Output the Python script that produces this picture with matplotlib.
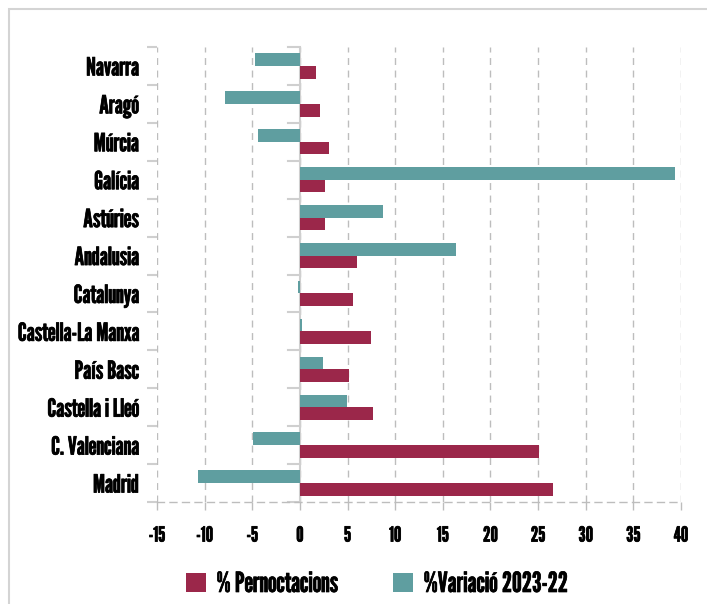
import matplotlib
matplotlib.use("Agg")
import matplotlib.pyplot as plt
from matplotlib.patches import Rectangle, Patch
import matplotlib.patheffects as pe
import numpy as np

plt.rcParams['font.family'] = ['League Gothic', 'DejaVu Sans']

categories = ["Navarra", "Aragó", "Múrcia", "Galícia", "Astúries", "Andalusia",
              "Catalunya", "Castella-La Manxa", "País Basc", "Castella i Lleó",
              "C. Valenciana", "Madrid"]
pernoctacions = [1.65, 2.1, 3.05, 2.6, 2.6, 6.0, 5.6, 7.5, 5.15, 7.7, 25.1, 26.6]
variacio = [-4.7, -7.9, -4.4, 39.4, 8.75, 16.4, -0.2, 0.2, 2.4, 4.95, -4.95, -10.7]
xticks = [-15, -10, -5, 0, 5, 10, 15, 20, 25, 30, 35, 40]
series_names = ["% Pernoctacions", "%Variació 2023-22"]

c_maroon = "#9b274a"
c_teal = "#5f9ea0"
grid_c = "#bdbdbd"
bold = [pe.withStroke(linewidth=0.5, foreground="black")]

W, H = 707, 604
fig = plt.figure(figsize=(W/100, H/100), dpi=100)
ax = fig.add_axes([157/W, 1-502/H, (681-157)/W, (502-47)/H])

n = len(categories)
y = np.arange(n)
h = 0.335
ax.barh(y - h/2, variacio, height=h, color=c_teal, zorder=3)
ax.barh(y + h/2, pernoctacions, height=h, color=c_maroon, zorder=3)

ax.set_ylim(n - 0.5, -0.5)
ax.set_xlim(-15, 40)
ax.set_xticks(xticks)
ax.set_xticklabels([str(t) for t in xticks], fontsize=15)
ax.set_yticks(y)
ax.set_yticklabels(categories, fontsize=18)
ax.set_yticks(np.arange(n + 1) - 0.5, minor=True)
ax.tick_params(axis='y', which='major', length=0, pad=13)
ax.tick_params(axis='y', which='minor', length=7, color="#cfcfcf", width=1.5, direction='out')
ax.tick_params(axis='x', which='major', length=6, color=grid_c, width=1, pad=11)
for lab in ax.get_xticklabels() + ax.get_yticklabels():
    lab.set_path_effects(bold)

for t in xticks:
    ax.axvline(t, color=grid_c, linestyle=(0, (5, 4)), linewidth=1, zorder=1)

for s in ['top', 'right', 'left']:
    ax.spines[s].set_visible(False)
ax.spines['bottom'].set_color(grid_c)
ax.spines['bottom'].set_linestyle((0, (5, 4)))
ax.spines['bottom'].set_linewidth(1)

# zero line with boundary ticks
ax.axvline(0, color="#cfcfcf", linewidth=1.5, zorder=2)
for b in np.arange(n + 1) - 0.5:
    ax.plot([-1.3, 0], [b, b], color="#cfcfcf", linewidth=1.5, zorder=2, clip_on=False)

handles = [Patch(facecolor=c_maroon, edgecolor='none'), Patch(facecolor=c_teal, edgecolor='none')]
leg = fig.legend(handles, series_names, loc='center', bbox_to_anchor=(377/W, 1-584/H),
                 ncol=2, frameon=False, fontsize=20, handlelength=0.7, handleheight=0.7,
                 handletextpad=0.4, columnspacing=2.0)
for t in leg.get_texts():
    t.set_path_effects(bold)

fig.patches.append(Rectangle((8.5/W, -0.1), 1.2, 1.1 - 8.5/H, transform=fig.transFigure,
                             fill=False, edgecolor="#d4d4d4", linewidth=1.5))

fig.savefig("out.png", dpi=100)
